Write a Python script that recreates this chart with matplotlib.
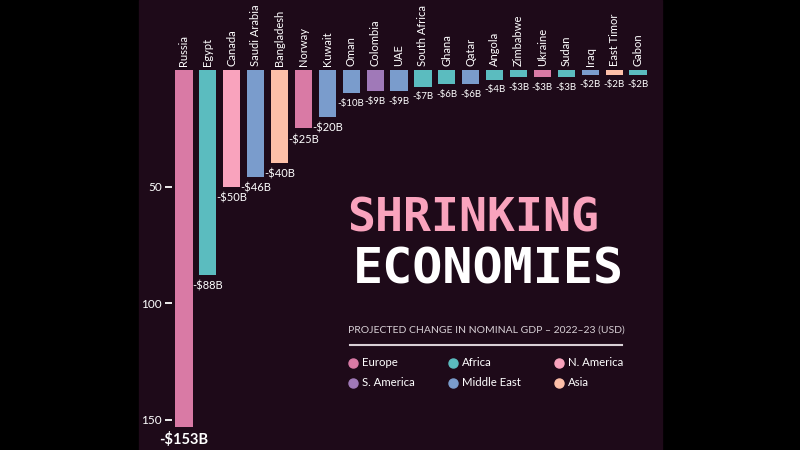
import matplotlib.pyplot as plt
from matplotlib.patches import Rectangle
from matplotlib.lines import Line2D

plt.rcParams['font.family'] = ['Lato', 'DejaVu Sans']

countries = ['Russia', 'Egypt', 'Canada', 'Saudi Arabia', 'Bangladesh', 'Norway',
             'Kuwait', 'Oman', 'Colombia', 'UAE', 'South Africa', 'Ghana', 'Qatar',
             'Angola', 'Zimbabwe', 'Ukraine', 'Sudan', 'Iraq', 'East Timor', 'Gabon']
change = [-153, -88, -50, -46, -40, -25, -20, -10, -9, -9, -7, -6, -6, -4,
          -3, -3, -3, -2, -2, -2]
regions = ['Europe', 'Africa', 'N. America', 'Middle East', 'Asia', 'Europe',
           'Middle East', 'Middle East', 'S. America', 'Middle East', 'Africa',
           'Africa', 'Middle East', 'Africa', 'Africa', 'Europe', 'Africa',
           'Middle East', 'Asia', 'Africa']

region_colors = {
    'Europe': '#d97aa5',
    'Africa': '#5bbcbf',
    'N. America': '#f9a3bd',
    'S. America': '#a079b8',
    'Middle East': '#7a9ccc',
    'Asia': '#fdbfa8',
}
legend_rows = [['Europe', 'Africa', 'N. America'],
               ['S. America', 'Middle East', 'Asia']]

BG = '#1e0a19'
W, H = 800, 450


def fx(px):
    return px / W


def fy(py):
    return 1 - py / H


fig = plt.figure(figsize=(8, 4.5), dpi=100, facecolor='black')
fig.patches.append(Rectangle((fx(139), 0), fx(662) - fx(139), 1,
                             transform=fig.transFigure, color=BG, zorder=-5))

ax = fig.add_axes([fx(172), fy(443), fx(650) - fx(172), fy(70.2) - fy(443)])
ax.set_facecolor('none')

x = list(range(len(countries)))
colors = [region_colors[r] for r in regions]
ax.bar(x, change, width=0.72, color=colors)
ax.set_xlim(-0.5, len(countries) - 0.5)
ax.set_ylim(-160, 0)

for s in ax.spines.values():
    s.set_visible(False)
ax.set_xticks([])
ax.set_yticks([-50, -100, -150])
ax.set_yticklabels(['50', '100', '150'])
ax.tick_params(axis='y', colors='white', labelcolor='white', length=5,
               width=1.3, pad=2.5, labelsize=8.5)

for i, (name, v) in enumerate(zip(countries, change)):
    ax.annotate(name, (i, 0), xytext=(0, 3), textcoords='offset points',
                rotation=90, ha='center', va='bottom', color='white', fontsize=8)
    label = f'-${abs(v)}B'
    if i == 0:
        ax.annotate(label, (i, v), xytext=(0, -4), textcoords='offset points',
                    ha='center', va='top', color='white', fontsize=10.5,
                    fontweight='bold', annotation_clip=False)
    elif abs(v) >= 20:
        ax.annotate(label, (i, v), xytext=(0, -4), textcoords='offset points',
                    ha='center', va='top', color='white', fontsize=8)
    else:
        ax.annotate(label, (i, v), xytext=(0, -4), textcoords='offset points',
                    ha='center', va='top', color='white', fontsize=7)

# title
fig.text(fx(347), fy(232), 'SHRINKING', color='#f9a3bd', fontsize=33.5,
         family='DejaVu Sans Mono', fontweight='bold', va='baseline')
fig.text(fx(353), fy(283), 'ECONOMIES', color='white', fontsize=36,
         family='DejaVu Sans Mono', fontweight='bold', va='baseline')

fig.text(fx(348), fy(330), 'PROJECTED CHANGE IN NOMINAL GDP \u2013 2022\u201323 (USD)',
         color='#d8d0d6', fontsize=7.5, va='center')
fig.lines.append(Line2D([fx(350), fx(622)], [fy(345), fy(345)],
                        transform=fig.transFigure, color='#d8d0d6', lw=1.5))

col_x = [353, 453, 559]
row_y = [363, 383]
for r, row in enumerate(legend_rows):
    for c, reg in enumerate(row):
        fig.lines.append(Line2D([fx(col_x[c])], [fy(row_y[r])], marker='o',
                                markersize=6.5, color=region_colors[reg],
                                transform=fig.transFigure, linestyle='none'))
        fig.text(fx(col_x[c] + 9), fy(row_y[r]), reg, color='white',
                 fontsize=8.2, va='center')

fig.savefig('out.png', dpi=100, facecolor='black')
